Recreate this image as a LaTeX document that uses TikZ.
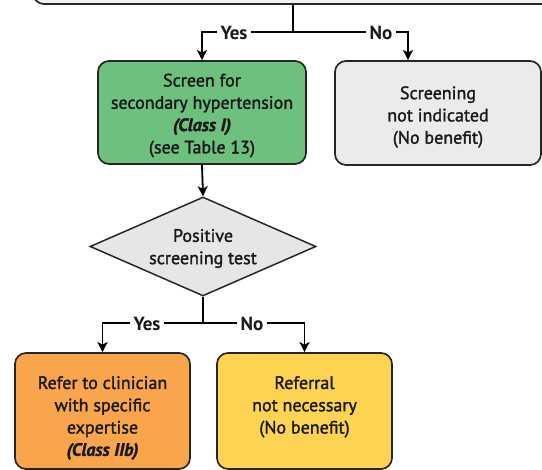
\documentclass[tikz,border=0pt]{standalone}
\usepackage{fontspec}
\setmainfont{PT Sans}
\newfontfamily\bodyfont{PT Sans}[FakeBold=1.6]
\usetikzlibrary{shapes.geometric,arrows.meta}
\definecolor{greenfill}{HTML}{6EC07F}
\definecolor{grayfill}{HTML}{EBEBED}
\definecolor{topfill}{HTML}{F2F2F3}
\definecolor{diafill}{HTML}{E6E6E8}
\definecolor{orangefill}{HTML}{F8A54B}
\definecolor{yellowfill}{HTML}{FCD452}
\definecolor{edge}{HTML}{262626}
\definecolor{ink}{HTML}{1A1A1A}
\begin{document}
\begin{tikzpicture}[x=1pt,y=-1pt,
  box/.style={draw=edge, line width=1.7pt, rounded corners=11pt, inner sep=0pt},
  txt/.style={align=center, text=ink, inner sep=0pt, font=\bodyfont\fontsize{18}{22.3}\selectfont},
  conn/.style={line width=1.8pt, draw=black},
  arr/.style={conn, -{Stealth[length=10pt,width=10pt,inset=2.5pt]}},
  lbl/.style={font=\fontsize{19}{20}\selectfont\bfseries, text=ink, fill=white, inner xsep=4pt, inner ysep=1pt}]
\useasboundingbox (0,0) rectangle (542,470);
\clip (0,0) rectangle (542,470);
% top box (partly visible)
\node[box, fill=topfill, minimum width=527pt, minimum height=60pt] (top) at (296.5,-26) {};
% second row
\node[box, fill=greenfill, minimum width=208pt, minimum height=103pt] (screen) at (202,112.5) {};
\node[txt] at ([yshift=-3pt]screen.center) {Screen for\\secondary hypertension\\\textbf{\textit{(Class I)}}\\(see Table 13)};
\node[box, fill=grayfill, minimum width=206pt, minimum height=104pt] (noscreen) at (438,113) {};
\node[txt] at ([yshift=-4pt]noscreen.center) {Screening\\not indicated\\(No benefit)};
% diamond
\node[diamond, draw=edge, line width=1.5pt, fill=diafill, minimum width=226pt, minimum height=99pt, inner sep=0pt] (test) at (203,246.5) {};
\node[txt] at ([yshift=-2pt]test.center) {Positive\\screening test};
% bottom row
\node[box, fill=orangefill, minimum width=175pt, minimum height=116pt] (refer) at (102.5,411) {};
\node[txt, anchor=north] at (102.5,376) {Refer to clinician\\with specific\\expertise\\\textbf{\textit{(Class IIb)}}};
\node[box, fill=yellowfill, minimum width=175pt, minimum height=116pt] (norefer) at (304.5,411) {};
\node[txt, anchor=north] at (304.5,376) {Referral\\not necessary\\(No benefit)};
% connectors top
\coordinate (tj) at (293,32);
\coordinate (noc) at (408,32);
\draw[conn] (tj |- top.south) -- (tj);
\draw[arr] (tj) -- (screen.north |- tj) -- (screen.north);
\draw[arr] (tj) -- (noc) -- (noc |- noscreen.north);
\node[lbl] at (234,33) {Yes};
\node[lbl] at (381,33) {No};
% screen -> test
\draw[arr] (screen.south) -- (test.north);
% bottom connectors
\coordinate (bj) at (203,323);
\draw[conn] (test.south) -- (bj);
\draw[arr] (bj) -- (refer.north |- bj) -- (refer.north);
\draw[arr] (bj) -- (norefer.north |- bj) -- (norefer.north);
\node[lbl] at (147,324) {Yes};
\node[lbl] at (252,324) {No};
\end{tikzpicture}
\end{document}
